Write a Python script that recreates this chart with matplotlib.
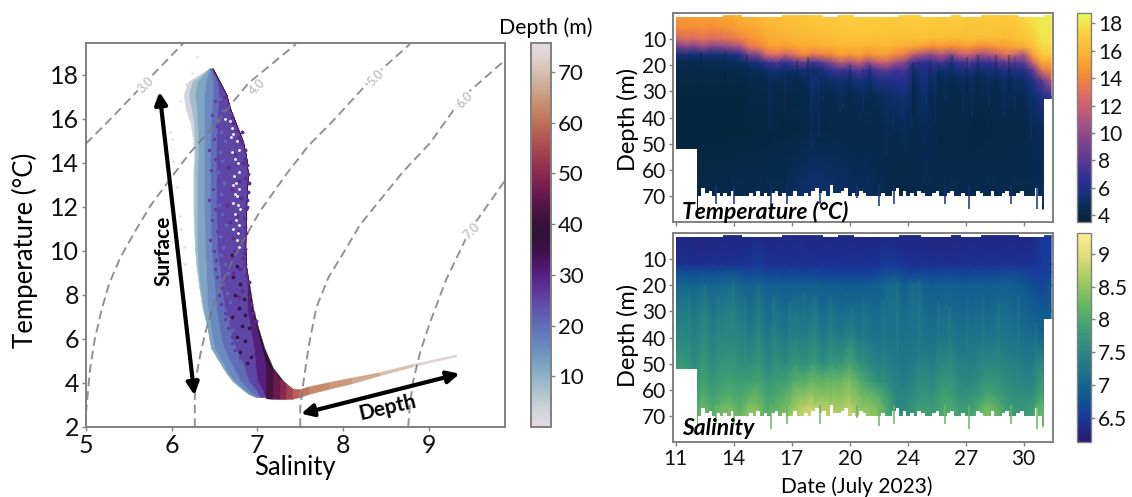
import numpy as np
import matplotlib
matplotlib.use('Agg')
import matplotlib.pyplot as plt
from matplotlib.colors import LinearSegmentedColormap, Normalize
from matplotlib.cm import ScalarMappable

plt.rcParams['font.family'] = ['Lato', 'DejaVu Sans']

W, H = 1132, 497
GREY = '#808080'

# --- T-S diagram: salinity at the edges of the depth bands, per temperature level ---
ts_temp = [18.3, 17.7, 17.1, 16.5, 15.8, 15.0, 14.3, 13.5, 12.0, 10.2, 9.3, 8.4, 7.4, 6.5, 6.0, 5.6, 5.15, 4.7, 4.4, 4.1, 3.7, 3.5, 3.35]
ts_band_depth = [3, 8, 12, 16, 20, 25, 30, 38]
ts_band_edges = [
    [6.44, 6.44, 6.44, 6.44, 6.45, 6.46, 6.47, 6.48, 6.48],
    [6.19, 6.24, 6.30, 6.40, 6.48, 6.53, 6.56, 6.56, 6.56],
    [6.14, 6.20, 6.27, 6.38, 6.48, 6.55, 6.64, 6.64, 6.64],
    [6.16, 6.23, 6.29, 6.38, 6.47, 6.54, 6.68, 6.68, 6.68],
    [6.22, 6.26, 6.30, 6.38, 6.46, 6.53, 6.75, 6.75, 6.75],
    [6.25, 6.27, 6.31, 6.38, 6.45, 6.52, 6.83, 6.83, 6.83],
    [6.26, 6.27, 6.31, 6.38, 6.45, 6.52, 6.87, 6.87, 6.87],
    [6.25, 6.26, 6.30, 6.38, 6.45, 6.52, 6.89, 6.89, 6.89],
    [6.25, 6.26, 6.30, 6.38, 6.45, 6.52, 6.87, 6.87, 6.87],
    [6.27, 6.27, 6.30, 6.39, 6.46, 6.53, 6.86, 6.86, 6.86],
    [6.29, 6.29, 6.31, 6.40, 6.48, 6.56, 6.87, 6.87, 6.87],
    [6.32, 6.32, 6.33, 6.41, 6.50, 6.58, 6.88, 6.90, 6.91],
    [6.36, 6.36, 6.37, 6.42, 6.52, 6.62, 6.88, 6.93, 6.95],
    [6.42, 6.42, 6.42, 6.46, 6.56, 6.68, 6.92, 6.99, 7.01],
    [6.44, 6.44, 6.44, 6.48, 6.58, 6.71, 6.94, 7.02, 7.05],
    [6.46, 6.46, 6.46, 6.50, 6.61, 6.75, 6.96, 7.05, 7.08],
    [6.53, 6.53, 6.53, 6.56, 6.66, 6.80, 6.97, 7.08, 7.13],
    [6.60, 6.60, 6.60, 6.63, 6.72, 6.85, 6.98, 7.10, 7.18],
    [6.65, 6.65, 6.65, 6.67, 6.76, 6.87, 6.99, 7.12, 7.24],
    [6.71, 6.71, 6.71, 6.73, 6.80, 6.90, 7.00, 7.15, 7.30],
    [6.83, 6.83, 6.83, 6.85, 6.90, 6.98, 7.06, 7.25, 7.41],
    [6.90, 6.90, 6.90, 6.91, 6.95, 7.01, 7.08, 7.27, 7.45],
    [6.99, 6.99, 6.99, 7.00, 7.02, 7.05, 7.10, 7.30, 7.49],
]

# deep tail of the cloud, from the corner out to the saltiest water
tail_sal = [7.10, 7.18, 7.26, 7.33, 7.41, 7.49, 7.60, 7.84, 8.10, 8.43, 8.82, 9.32]
tail_up = [4.9, 4.65, 4.2, 3.98, 3.75, 3.72, 3.85, 4.05, 4.25, 4.50, 4.88, 5.30]
tail_lo = [3.30, 3.28, 3.27, 3.27, 3.28, 3.36, 3.50, 3.74, 3.98, 4.35, 4.76, 5.21]
tail_depth = [42, 46, 50, 54, 58, 61, 63, 65, 67, 70, 73]

speck_sal = [6.62, 6.66, 6.70, 6.72, 6.76, 6.79, 6.82, 6.85, 6.86, 6.88, 6.89, 6.90, 6.89, 6.88, 6.87, 6.86,
             6.85, 6.87, 6.84, 6.86, 6.83, 6.85, 6.80, 6.83, 6.78, 6.81, 6.76, 6.79, 6.74, 6.86, 6.70, 6.88,
             6.72, 6.84, 6.68, 6.82, 6.66, 6.80, 6.64, 6.74, 6.90, 6.87, 6.82, 6.78, 6.72, 6.92, 6.95, 6.98]
speck_temp = [17.0, 16.6, 16.1, 15.8, 15.5, 15.2, 14.9, 14.6, 14.2, 13.9, 13.5, 13.1, 12.7, 12.3, 11.9, 11.5,
              11.1, 10.8, 10.4, 10.1, 9.7, 9.4, 15.0, 14.0, 13.2, 12.4, 11.6, 10.9, 14.4, 13.3, 12.8, 12.0,
              10.6, 9.9, 11.3, 15.4, 13.8, 9.2, 12.1, 10.0, 8.6, 8.9, 8.2, 7.9, 9.0, 7.6, 7.2, 6.8]
# violet dots scattered into the blue water and blue dots into the violet water
violet_sal = [6.50, 6.47, 6.53, 6.49, 6.44, 6.51, 6.46, 6.54, 6.48, 6.43, 6.50, 6.47, 6.53, 6.45, 6.49, 6.52,
              6.50, 6.53, 6.57, 6.55, 6.58, 6.62, 6.62, 6.66, 6.70, 6.70, 6.74, 6.80]
violet_temp = [16.8, 16.2, 15.7, 15.1, 14.6, 14.2, 13.7, 13.2, 12.8, 12.3, 11.9, 11.4, 10.9, 10.5, 10.0, 9.6,
               9.2, 8.8, 8.3, 8.0, 7.6, 7.2, 6.9, 6.5, 6.1, 5.8, 5.5, 5.2]
blue_sal = [6.56, 6.60, 6.55, 6.58, 6.62, 6.56, 6.59, 6.54, 6.61, 6.57, 6.55, 6.59, 6.63, 6.56, 6.60, 6.58,
            6.62, 6.66, 6.60, 6.64, 6.68, 6.62, 6.66, 6.70, 6.76, 6.72, 6.80, 6.78]
blue_temp = [16.9, 16.4, 15.9, 15.4, 15.0, 14.5, 14.1, 13.6, 13.1, 12.6, 12.1, 11.7, 11.2, 10.7, 10.2, 9.8,
             9.4, 9.0, 8.5, 8.1, 7.7, 7.3, 6.9, 6.4, 6.0, 5.5, 5.0, 4.6]
# dark water patches low in the cloud
dark_sal = [6.70, 6.76, 6.72, 6.80, 6.74, 6.84, 6.78, 6.70, 6.86, 6.82, 6.90, 6.76, 6.86, 6.80, 6.92, 6.88]
dark_temp = [9.8, 9.3, 8.8, 8.5, 8.0, 7.8, 7.4, 7.0, 7.1, 6.6, 6.5, 6.1, 5.9, 5.4, 5.2, 4.9]
gap_sal = [6.62, 6.68, 6.70, 6.72, 6.76, 6.78, 6.70, 6.74, 6.77, 6.79, 6.73, 6.75, 6.71, 6.78, 6.74, 6.76,
           6.72, 6.77, 6.80, 6.74, 6.75, 6.79, 6.72, 6.77, 6.76, 6.78, 6.69, 6.73]
gap_temp = [16.0, 15.9, 15.6, 15.3, 15.0, 14.6, 14.5, 14.2, 14.0, 13.6, 13.4, 13.1, 13.0, 12.8, 12.6, 12.5,
            12.2, 12.1, 11.9, 11.7, 11.4, 11.2, 11.0, 10.8, 10.5, 10.2, 15.2, 16.3]
pale_sal = [5.98, 6.00, 6.02, 6.06, 6.10, 6.11, 6.14, 6.16, 6.29, 6.24, 6.10, 6.17]
pale_temp = [15.4, 15.1, 14.1, 12.9, 11.6, 11.0, 10.2, 9.4, 18.8, 18.1, 16.8, 17.6]

# isopycnals
iso3_sal = [5.00, 5.31, 5.68, 6.15]
iso3_temp = [14.88, 16.09, 17.60, 19.50]
iso4_sal = [5.00, 5.00, 5.02, 5.05, 5.10, 5.18, 5.27, 5.40, 5.58, 5.76, 5.97, 6.20, 6.48, 6.89, 7.45]
iso4_temp = [2.0, 2.7, 3.5, 4.7, 5.94, 7.3, 8.5, 9.7, 10.94, 12.1, 13.2, 14.4, 15.64, 17.6, 19.4]
iso5_sal = [6.27, 6.27, 6.29, 6.34, 6.40, 6.50, 6.62, 6.75, 7.03, 7.34, 7.60, 7.88, 8.35, 8.78]
iso5_temp = [2.0, 3.36, 4.4, 5.4, 6.39, 7.7, 8.85, 9.88, 11.8, 13.5, 14.8, 15.9, 17.9, 19.4]
iso6_sal = [7.50, 7.50, 7.53, 7.60, 7.69, 7.83, 8.00, 8.20, 8.43, 8.70, 9.01, 9.40, 9.89]
iso6_temp = [2.0, 2.9, 3.82, 5.7, 7.45, 8.8, 9.88, 11.2, 12.3, 13.6, 14.88, 17.0, 18.67]
iso7_sal = [8.76, 8.78, 8.82, 8.90, 9.01, 9.20, 9.48, 9.89]
iso7_temp = [2.0, 3.0, 4.12, 5.4, 6.7, 8.67, 10.94, 13.2]
iso_labels = ['3.0', '4.0', '5.0', '6.0', '7.0']
iso_label_sal = [5.70, 7.00, 8.38, 9.42, 9.50]
iso_label_temp = [17.55, 17.45, 17.85, 16.85, 10.90]

# --- depth/time sections ---
days = np.arange(11, 31.51, 0.5)
temp_depths = [1, 6, 10, 13, 16, 19, 22, 26, 32, 45, 60, 75]
temp_table = [
    [15.0, 15.0, 15.2, 15.3, 15.2, 15.5, 15.4, 15.8, 16.0, 16.1, 16.4, 16.3, 16.6, 16.7, 16.8, 16.9, 17.0, 16.9, 17.0, 17.1, 17.0, 17.1, 17.0, 17.0, 16.9, 17.0, 17.0, 17.1, 17.0, 16.9, 17.0, 17.0, 16.8, 16.9, 17.0, 17.0, 16.9, 17.0, 17.5, 18.0, 18.3, 18.2],
    [14.0, 14.2, 14.0, 14.3, 14.1, 14.4, 14.6, 15.0, 15.2, 15.4, 15.8, 16.0, 16.1, 16.2, 16.4, 16.5, 16.6, 16.7, 16.8, 16.8, 16.9, 16.9, 16.8, 16.8, 16.7, 16.8, 16.8, 16.9, 16.8, 16.7, 16.8, 16.8, 16.6, 16.7, 16.8, 16.7, 16.6, 16.7, 17.0, 17.5, 18.2, 18.0],
    [12.0, 12.8, 12.5, 13.0, 12.6, 12.9, 13.2, 13.6, 14.5, 14.8, 15.4, 15.5, 15.6, 15.8, 16.0, 16.0, 16.2, 16.3, 16.5, 16.4, 16.6, 16.5, 16.4, 16.6, 16.3, 16.4, 16.4, 16.5, 16.2, 16.4, 16.3, 16.2, 16.4, 16.3, 16.2, 16.3, 16.0, 16.4, 16.5, 17.0, 18.0, 18.0],
    [8.5, 9.5, 9.0, 10.0, 9.2, 9.5, 10.0, 10.5, 13.0, 13.5, 14.8, 15.0, 14.8, 15.2, 15.5, 15.4, 15.6, 15.6, 16.0, 15.8, 16.0, 15.7, 15.8, 16.0, 15.6, 15.4, 15.2, 14.8, 14.2, 14.6, 14.0, 14.5, 14.8, 14.2, 14.0, 14.6, 14.8, 15.4, 15.5, 16.5, 17.5, 17.5],
    [5.4, 5.6, 5.2, 5.8, 5.3, 5.5, 5.8, 6.2, 9.0, 9.5, 12.5, 12.8, 12.0, 13.0, 14.0, 13.2, 13.8, 14.2, 15.0, 14.5, 15.2, 14.2, 14.8, 15.0, 14.0, 13.5, 11.5, 10.5, 10.0, 11.2, 9.8, 11.5, 12.0, 10.5, 10.8, 11.5, 13.0, 12.0, 11.0, 15.0, 17.0, 17.0],
    [4.5, 4.4, 4.3, 4.6, 4.4, 4.5, 4.6, 4.8, 5.5, 5.6, 7.0, 7.5, 6.5, 7.8, 8.5, 7.0, 8.2, 9.5, 11.5, 10.5, 12.0, 10.0, 11.5, 12.0, 10.5, 9.5, 7.0, 6.5, 6.8, 7.5, 6.0, 7.0, 8.0, 6.5, 7.0, 7.2, 8.5, 7.8, 8.0, 12.0, 15.5, 15.0],
    [4.2, 4.1, 4.1, 4.2, 4.1, 4.2, 4.2, 4.3, 4.6, 4.6, 5.0, 5.4, 4.8, 5.2, 5.5, 4.8, 5.5, 6.5, 7.5, 6.8, 7.8, 6.5, 7.5, 8.0, 7.0, 7.5, 5.2, 5.8, 5.8, 5.0, 5.0, 5.5, 5.8, 5.0, 5.4, 5.5, 6.0, 5.8, 6.0, 8.0, 13.0, 14.0],
    [4.0, 4.0, 4.0, 4.0, 4.0, 4.0, 4.0, 4.1, 4.2, 4.2, 4.4, 4.5, 4.3, 4.4, 4.6, 5.6, 4.6, 5.0, 5.2, 5.0, 5.6, 5.2, 5.8, 6.0, 6.2, 6.5, 4.6, 5.6, 5.0, 4.5, 4.5, 4.6, 4.6, 4.4, 4.5, 4.6, 4.8, 4.8, 5.0, 6.0, 8.0, 11.0],
    [3.9, 3.9, 3.9, 3.9, 3.9, 3.9, 3.9, 3.9, 4.0, 4.0, 4.1, 4.1, 4.0, 4.1, 4.2, 4.8, 4.2, 4.3, 4.4, 4.3, 4.5, 4.4, 4.6, 4.8, 5.0, 5.4, 4.3, 5.0, 4.5, 4.2, 4.2, 4.2, 4.2, 4.1, 4.2, 4.2, 4.3, 4.3, 4.5, 5.0, 6.0, 7.0],
    [3.8, 3.8, 3.8, 3.8, 3.8, 3.8, 3.8, 3.8, 3.9, 3.9, 3.9, 4.0, 3.9, 4.0, 4.0, 4.2, 4.0, 4.1, 4.2, 4.1, 4.2, 4.1, 4.2, 4.3, 4.2, 4.6, 4.1, 4.5, 4.2, 4.0, 4.0, 4.0, 4.0, 3.9, 4.0, 4.0, 4.0, 4.0, 4.1, 4.4, 4.6, 5.0],
    [4.0, 4.0, 4.0, 4.0, 4.0, 4.0, 4.1, 4.1, 4.2, 4.1, 4.2, 4.2, 4.3, 4.6, 4.8, 5.0, 4.9, 4.8, 4.7, 4.6, 4.5, 4.6, 4.3, 4.1, 4.0, 4.0, 4.1, 4.2, 4.2, 4.1, 4.2, 4.2, 4.1, 4.1, 4.2, 4.2, 4.1, 4.2, 4.2, 4.3, 4.4, 4.4],
    [4.2, 4.2, 4.2, 4.2, 4.3, 4.2, 4.3, 4.3, 4.4, 4.3, 4.4, 4.4, 4.6, 5.0, 5.2, 5.3, 5.2, 5.1, 5.0, 4.9, 4.8, 4.9, 4.5, 4.3, 4.2, 4.2, 4.3, 4.4, 4.4, 4.3, 4.4, 4.4, 4.3, 4.3, 4.4, 4.4, 4.3, 4.4, 4.4, 4.5, 4.6, 4.6],
]
sal_depths = [1, 12, 15, 20, 30, 40, 50, 57, 62, 67, 74]
sal_table = [
    [6.30, 6.32, 6.30, 6.28, 6.30, 6.32, 6.30, 6.30, 6.32, 6.35, 6.30, 6.32, 6.34, 6.32, 6.32, 6.30, 6.32, 6.32, 6.34, 6.32, 6.30, 6.32, 6.30, 6.32, 6.32, 6.30, 6.30, 6.32, 6.28, 6.30, 6.28, 6.30, 6.32, 6.32, 6.30, 6.30, 6.32, 6.32, 6.30, 6.34, 6.50, 6.50],
    [6.40, 6.42, 6.40, 6.40, 6.42, 6.40, 6.42, 6.45, 6.45, 6.55, 6.42, 6.42, 6.44, 6.42, 6.42, 6.42, 6.44, 6.42, 6.44, 6.42, 6.42, 6.44, 6.45, 6.55, 6.50, 6.45, 6.42, 6.42, 6.40, 6.42, 6.40, 6.42, 6.42, 6.44, 6.42, 6.42, 6.44, 6.42, 6.42, 6.45, 6.52, 6.52],
    [6.75, 6.70, 6.68, 6.74, 6.70, 6.72, 6.76, 6.70, 6.62, 6.68, 6.60, 6.62, 6.58, 6.60, 6.58, 6.60, 6.58, 6.55, 6.56, 6.55, 6.55, 6.56, 6.62, 6.68, 6.72, 6.62, 6.55, 6.62, 6.58, 6.60, 6.62, 6.60, 6.58, 6.62, 6.60, 6.62, 6.65, 6.68, 6.60, 6.55, 6.54, 6.56],
    [7.02, 7.05, 6.98, 7.08, 7.00, 7.04, 7.10, 7.02, 6.95, 7.02, 6.92, 6.96, 6.88, 6.94, 6.90, 6.95, 6.88, 6.86, 6.88, 6.85, 6.86, 6.88, 6.90, 7.05, 7.10, 6.90, 7.12, 6.96, 6.88, 6.92, 6.95, 6.90, 6.88, 6.94, 6.90, 6.92, 6.95, 6.90, 6.82, 6.72, 6.62, 6.80],
    [7.30, 7.35, 7.25, 7.40, 7.25, 7.32, 7.38, 7.30, 7.15, 7.30, 7.12, 7.20, 7.08, 7.22, 7.12, 7.25, 7.10, 7.20, 7.08, 7.15, 7.10, 7.12, 7.06, 7.15, 7.20, 7.08, 7.18, 7.12, 7.02, 7.08, 7.10, 7.05, 7.02, 7.08, 7.04, 7.10, 7.12, 7.05, 7.00, 6.92, 6.85, 6.90],
    [7.50, 7.50, 7.40, 7.55, 7.40, 7.48, 7.52, 7.45, 7.35, 7.48, 7.30, 7.42, 7.28, 7.42, 7.32, 7.48, 7.30, 7.42, 7.32, 7.45, 7.30, 7.28, 7.20, 7.25, 7.22, 7.18, 7.22, 7.20, 7.18, 7.25, 7.28, 7.18, 7.20, 7.25, 7.22, 7.28, 7.25, 7.18, 7.15, 7.10, 7.05, 7.00],
    [7.75, 7.75, 7.55, 7.75, 7.58, 7.70, 7.72, 7.62, 7.60, 7.72, 7.50, 7.65, 7.55, 7.75, 7.60, 7.80, 7.60, 7.75, 7.70, 7.95, 7.65, 7.55, 7.40, 7.38, 7.30, 7.28, 7.35, 7.40, 7.35, 7.50, 7.55, 7.40, 7.35, 7.45, 7.50, 7.50, 7.45, 7.38, 7.35, 7.30, 7.60, 7.00],
    [7.95, 7.90, 7.68, 7.90, 7.72, 7.85, 7.92, 7.80, 7.85, 7.95, 7.72, 7.82, 7.85, 8.10, 8.10, 8.25, 8.15, 8.25, 8.20, 8.40, 8.10, 7.90, 7.65, 7.58, 7.40, 7.35, 7.50, 7.60, 7.50, 7.70, 7.72, 7.55, 7.50, 7.60, 7.72, 7.70, 7.60, 7.50, 7.48, 7.45, 7.80, 7.00],
    [8.05, 8.00, 7.80, 8.05, 7.85, 8.00, 8.05, 7.95, 8.10, 8.15, 7.90, 8.00, 8.10, 8.35, 8.45, 8.50, 8.40, 8.45, 8.40, 8.55, 8.30, 8.20, 8.10, 7.85, 7.50, 7.45, 7.60, 7.72, 7.62, 7.85, 7.85, 7.65, 7.65, 7.75, 7.95, 7.85, 7.72, 7.62, 7.60, 7.60, 7.95, 7.00],
    [8.15, 8.10, 7.95, 8.25, 8.00, 8.25, 8.30, 8.10, 8.40, 8.35, 8.00, 8.15, 8.30, 8.55, 8.75, 8.80, 8.70, 8.65, 8.60, 8.75, 8.50, 8.45, 8.35, 8.00, 7.60, 7.55, 7.72, 7.85, 7.75, 7.95, 8.00, 7.80, 7.80, 8.00, 8.30, 8.15, 7.85, 7.75, 7.72, 7.80, 8.20, 7.00],
    [8.30, 8.30, 8.15, 8.40, 8.20, 8.40, 8.50, 8.30, 8.60, 8.50, 8.15, 8.35, 8.50, 8.75, 8.90, 8.95, 8.85, 8.80, 8.75, 8.90, 8.70, 8.60, 8.50, 8.20, 7.75, 7.70, 7.90, 8.00, 7.95, 8.10, 8.15, 7.95, 7.95, 8.20, 8.50, 8.30, 8.00, 7.90, 7.90, 8.00, 8.40, 7.00],
]

# thin vertical streaks seen in the temperature section
warm_streak_day = [16.13, 16.95, 18.4, 18.8, 19.04, 19.95, 20.13, 21.2, 22.5, 22.85, 23.4, 23.85, 24.67, 25.13, 25.76, 26.67, 27.2, 28.13, 28.95, 29.5, 30.4]
warm_streak_top = [19, 20, 20, 22, 19, 21, 21, 22, 24, 25, 23, 20, 20, 20, 18, 18, 18, 17, 18, 17, 27]
warm_streak_end = [45, 38, 52, 48, 34, 40, 36, 38, 55, 45, 40, 44, 38, 42, 34, 38, 40, 36, 40, 38, 48]
cold_streak_day = [12.4, 13.7, 14.9, 17.6, 18.2, 20.5, 21.6, 23.95, 24.9, 25.4, 26.1, 26.9, 27.5, 28.5, 29.2]
cold_streak_top = [15, 15, 16, 18, 17, 20, 20, 19, 18, 19, 16, 17, 16, 16, 16]
cold_streak_end = [30, 30, 30, 36, 36, 36, 36, 40, 34, 34, 30, 30, 30, 30, 30]
sal_light_day = [11.7, 12.6, 13.3, 14.1, 14.8, 15.5, 16.3, 17.2, 18.0, 18.6, 19.4, 20.6, 21.2, 22.3, 23.1, 24.3, 25.3, 25.9, 26.9, 27.8, 28.6, 29.7, 30.6]
sal_light_top = [22, 20, 24, 18, 24, 20, 24, 26, 22, 24, 24, 28, 24, 26, 18, 18, 26, 28, 24, 24, 26, 24, 34]
sal_light_end = [48, 66, 66, 66, 66, 66, 66, 66, 66, 66, 66, 66, 66, 66, 60, 60, 66, 66, 66, 66, 66, 66, 66]

# lower limit of the profiles, every 0.2 day from 12.2 to 31.0
bottom_start = [11.0, 12.16]
bottom_start_depth = [52, 70]
bottom_days = np.arange(12.2, 31.01, 0.2)
bottom_depth = [70, 67, 69, 68, 70, 69, 70, 69, 70, 68, 70, 70, 70, 70, 69, 70, 68, 70, 69, 70, 69, 68, 70, 69, 70, 70, 68, 70, 70, 69, 70, 68, 67, 69, 68, 70, 66, 69, 69, 68, 67, 70, 69, 70, 68, 69, 70, 70, 70, 70, 69, 70, 70, 68, 67, 70, 68, 70, 69, 70, 68, 69, 70, 70, 69, 68, 70, 70, 69, 68, 70, 70, 69, 70, 70, 70, 68, 69, 70, 70, 68, 70, 70, 69, 68, 70, 70, 69, 68, 70, 70, 70, 67, 70, 70]
bottom_end = [31.13, 31.65]
bottom_end_depth = [33, 33]
spike_day = [13.2, 14.2, 16.2, 17.1, 18.85, 20.9, 22.1, 22.9, 25.7, 27.0, 29.3, 30.7, 31.05]
spike_depth = [73, 73, 75, 73, 73, 71, 74, 73, 73, 75, 73, 75, 73]

gap_start = [11.0, 14.64, 19.04, 20.76, 24.4, 26.6, 29.73]
gap_end = [13.6, 16.78, 19.87, 23.2, 26.05, 27.67, 31.13]

day_ticks = [11 + i * 19 / 6 for i in range(7)]
day_labels = ['11', '14', '17', '20', '24', '27', '30']
depth_ticks = [10, 20, 30, 40, 50, 60, 70]
temp_cb_ticks = [4, 6, 8, 10, 12, 14, 16, 18]
sal_cb_ticks = [6.5, 7, 7.5, 8, 8.5, 9]
sal_cb_labels = ['6.5', '7', '7.5', '8', '8.5', '9']
depth_cb_ticks = [10, 20, 30, 40, 50, 60, 70]

thermal = LinearSegmentedColormap.from_list('thermal', [
    '#042333', '#0c3069', '#2c2f97', '#5c3a92', '#86478a', '#b25680', '#dc6a66',
    '#f58a35', '#fbb033', '#fbd03c', '#e8fa5b'])
haline = LinearSegmentedColormap.from_list('haline', [
    '#2a186c', '#19379a', '#0f5a91', '#1c728b', '#2d8a80', '#40a272',
    '#6cb863', '#a5cb60', '#dcdc78', '#fdee99'])
depth_norm = Normalize(0, 75.7)
temp_norm = Normalize(3.5, 18.75)
sal_norm = Normalize(6.13, 9.32)


def px_axes(left, top, right, bottom):
    return fig.add_axes([left / W, 1 - bottom / H, (right - left) / W, (bottom - top) / H])


def style_box(ax, size=15):
    for s in ax.spines.values():
        s.set_color(GREY)
        s.set_linewidth(1.4)
    ax.tick_params(color=GREY, length=3, width=1, labelsize=size, labelcolor='#111111', pad=2)


fig = plt.figure(figsize=(W / 100, H / 100), dpi=100)

# T-S panel
ax = px_axes(86, 43, 505, 427)
edges = np.array(ts_band_edges)
for i, d in enumerate(ts_band_depth):
    ax.fill_betweenx(ts_temp, edges[:, i], edges[:, i + 1], color=plt.cm.twilight(depth_norm(d)), lw=0.3, zorder=2)
for i, d in enumerate(tail_depth):
    ax.fill_between(tail_sal[i:i + 2], tail_lo[i:i + 2], tail_up[i:i + 2],
                    color=plt.cm.twilight(depth_norm(d)), lw=0.3, zorder=3)
ax.scatter(pale_sal, pale_temp, s=3, color='#b9d0dc', alpha=0.7, lw=0, zorder=2)
ax.scatter(blue_sal, blue_temp, s=7, color=plt.cm.twilight(depth_norm(21)), lw=0, zorder=3)
ax.scatter(violet_sal, violet_temp, s=6, color=plt.cm.twilight(depth_norm(26)), lw=0, zorder=3)
ax.scatter(dark_sal, dark_temp, s=7, color=plt.cm.twilight(depth_norm(35)), lw=0, zorder=3)
ax.scatter(speck_sal, speck_temp, s=8, color=plt.cm.twilight(depth_norm(28)), lw=0, zorder=4)
ax.scatter(gap_sal, gap_temp, s=4, color='white', lw=0, zorder=4)

for xs, ys in [(iso3_sal, iso3_temp), (iso4_sal, iso4_temp), (iso5_sal, iso5_temp),
               (iso6_sal, iso6_temp), (iso7_sal, iso7_temp)]:
    ax.plot(xs, ys, color='#777777', ls=(0, (4.5, 2.5)), lw=1.4, alpha=0.8, zorder=5)
for lab, x, y in zip(iso_labels, iso_label_sal, iso_label_temp):
    ax.text(x, y, lab, color='#c4c4c4', fontsize=9, fontweight='bold', rotation=45, ha='center', va='center',
            bbox=dict(fc='white', ec='none', pad=0.8), zorder=6)

arrow = dict(arrowstyle='<|-|>', color='black', lw=3.0, mutation_scale=18, shrinkA=0, shrinkB=0)
ax.annotate('', xy=(5.857, 17.23), xytext=(6.265, 3.44), arrowprops=arrow, zorder=7)
ax.annotate('', xy=(7.51, 2.6), xytext=(9.36, 4.42), arrowprops=arrow, zorder=7)
ax.text(5.90, 10.0, 'Surface', rotation=90, fontsize=15, fontweight='bold', ha='center', va='center', zorder=7)
ax.text(8.52, 2.88, 'Depth', rotation=13, fontsize=15, fontweight='bold', ha='center', va='center', zorder=7)

ax.set_xlim(5, 9.89)
ax.set_ylim(2, 19.45)
ax.set_xticks([5, 6, 7, 8, 9])
ax.set_yticks(range(2, 19, 2))
style_box(ax, 18)

cax = px_axes(531, 43, 551, 427)
cb = fig.colorbar(ScalarMappable(depth_norm, plt.cm.twilight), cax=cax, ticks=depth_cb_ticks)
style_box(cax, 16)
cb.outline.set_edgecolor(GREY)
cb.outline.set_linewidth(1.4)


def section(top, bottom, table, depths, cmap, norm, spike_value):
    a = px_axes(673, top, 1053, bottom)
    a.pcolormesh(days, depths, table, cmap=cmap, norm=norm, shading='gouraud', zorder=1)
    a.fill_between(bottom_start, bottom_start_depth, 80, step='post', color='white', lw=0, zorder=2)
    a.fill_between(bottom_days, bottom_depth, 80, step='post', color='white', lw=0, zorder=2)
    a.fill_between(bottom_end, bottom_end_depth, 80, color='white', lw=0, zorder=2)
    a.fill_between([10.8, 11.0], 0, 80, color='white', lw=0, zorder=2)
    a.vlines(spike_day, 66, spike_depth, color=cmap(norm(spike_value)), lw=1.1, zorder=3)
    for s0, s1 in zip(gap_start, gap_end):
        a.fill_between([s0, s1], 0, 1.5, color='white', lw=0, zorder=2)
    a.set_xlim(10.85, 31.6)
    a.set_ylim(80, 0)
    a.set_xticks(day_ticks)
    a.set_yticks(depth_ticks)
    style_box(a, 15)
    return a


ax_t = section(13, 222, temp_table, temp_depths, thermal, temp_norm, 5.5)
ax_t.set_xticklabels([])
ax_t.vlines(warm_streak_day, warm_streak_top, warm_streak_end, color=thermal(temp_norm(6.0)), lw=1.6, alpha=0.3, zorder=1.5)
ax_t.vlines(cold_streak_day, cold_streak_top, cold_streak_end, color=thermal(temp_norm(3.8)), lw=1.6, alpha=0.35, zorder=1.5)
ax_s = section(233, 442, sal_table, sal_depths, haline, sal_norm, 8.2)
ax_s.set_xticklabels(day_labels)
ax_s.vlines(sal_light_day, sal_light_top, sal_light_end, color=haline(sal_norm(7.9)), lw=1.8, alpha=0.14, zorder=1.5)
ax_t.text(11.35, 76.2, 'Temperature (°C)', fontsize=16.5, fontweight='bold', style='italic', va='center', zorder=5)
ax_s.text(11.35, 75.0, 'Salinity', fontsize=16.5, fontweight='bold', style='italic', va='center', zorder=5)

cb_t = px_axes(1077, 13, 1091, 222)
c1 = fig.colorbar(ScalarMappable(temp_norm, thermal), cax=cb_t, ticks=temp_cb_ticks)
cb_s = px_axes(1077, 233, 1091, 442)
c2 = fig.colorbar(ScalarMappable(sal_norm, haline), cax=cb_s, ticks=sal_cb_ticks)
c2.set_ticklabels(sal_cb_labels)
for c, a in [(c1, cb_t), (c2, cb_s)]:
    style_box(a, 15)
    c.outline.set_edgecolor(GREY)
    c.outline.set_linewidth(1.0)

fig.text(25 / W, 1 - 250 / H, 'Temperature (°C)', rotation=90, fontsize=18.5, ha='center', va='center')
fig.text(295 / W, 1 - 468 / H, 'Salinity', fontsize=18.4, ha='center', va='center')
fig.text(546 / W, 1 - 28 / H, 'Depth (m)', fontsize=15.3, ha='center', va='center')
fig.text(628 / W, 1 - 119 / H, 'Depth (m)', rotation=90, fontsize=17, ha='center', va='center')
fig.text(628 / W, 1 - 335 / H, 'Depth (m)', rotation=90, fontsize=17, ha='center', va='center')
fig.text(857 / W, 1 - 487 / H, 'Date (July 2023)', fontsize=15, ha='center', va='center')

fig.savefig('out.png', dpi=100)
